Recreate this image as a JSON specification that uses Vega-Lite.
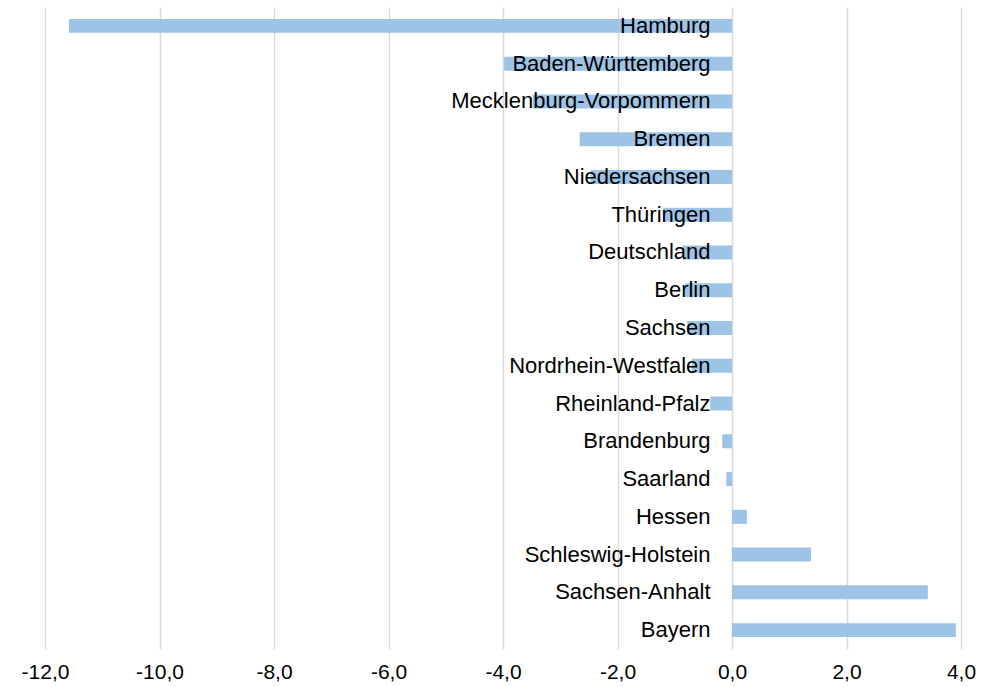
{
  "$schema": "https://vega.github.io/schema/vega-lite/v6.json",
  "width": 916,
  "height": 642,
  "autosize": "none",
  "padding": {"left": 45, "top": 7, "right": 21, "bottom": 38},
  "background": "white",
  "data": {
    "values": [
      {"land": "Hamburg", "wert": -11.58},
      {"land": "Baden-Württemberg", "wert": -3.98},
      {"land": "Mecklenburg-Vorpommern", "wert": -3.48},
      {"land": "Bremen", "wert": -2.66},
      {"land": "Niedersachsen", "wert": -2.47},
      {"land": "Thüringen", "wert": -1.2},
      {"land": "Deutschland", "wert": -0.86},
      {"land": "Berlin", "wert": -0.82},
      {"land": "Sachsen", "wert": -0.78},
      {"land": "Nordrhein-Westfalen", "wert": -0.7},
      {"land": "Rheinland-Pfalz", "wert": -0.38},
      {"land": "Brandenburg", "wert": -0.17},
      {"land": "Saarland", "wert": -0.1},
      {"land": "Hessen", "wert": 0.26},
      {"land": "Schleswig-Holstein", "wert": 1.38},
      {"land": "Sachsen-Anhalt", "wert": 3.42},
      {"land": "Bayern", "wert": 3.91}
    ]
  },
  "mark": {"type": "bar", "color": "#9dc3e6"},
  "encoding": {
    "y": {
      "field": "land",
      "type": "nominal",
      "sort": null,
      "scale": {"paddingInner": 0.63, "paddingOuter": 0.315},
      "axis": {
        "title": null,
        "domain": false,
        "ticks": false,
        "grid": false,
        "labelPadding": 0,
        "offset": -665,
        "zindex": 1,
        "labelFont": "Liberation Sans",
        "labelFontSize": 22,
        "labelColor": "#000000",
        "labelLimit": 0
      }
    },
    "x": {
      "field": "wert",
      "type": "quantitative",
      "scale": {"domain": [-12, 4], "nice": false, "zero": false},
      "axis": {
        "title": null,
        "values": [-12, -10, -8, -6, -4, -2, 0, 2, 4],
        "domain": false,
        "ticks": false,
        "grid": true,
        "gridColor": "#d9d9d9",
        "gridWidth": 1.5,
        "labelPadding": 12,
        "labelFont": "Liberation Sans",
        "labelFontSize": 21,
        "labelColor": "#000000",
        "labelExpr": "replace(replace(format(datum.value, '.1f'), '.', ','), '\u2212', '-')",
        "labelFlush": false,
        "zindex": 0
      }
    }
  },
  "config": {"view": {"stroke": null}}
}
